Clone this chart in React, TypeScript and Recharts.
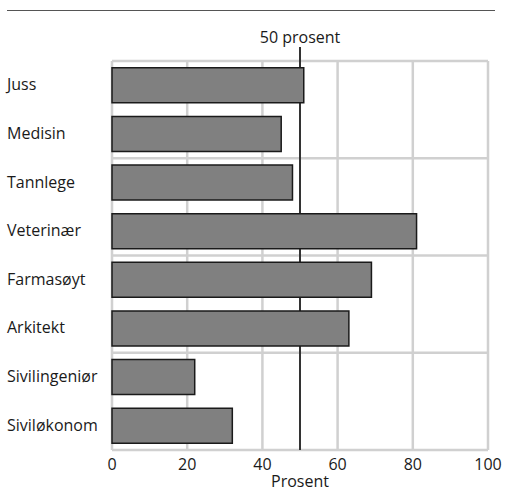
import React from 'react';
import { BarChart, Bar, XAxis, YAxis, CartesianGrid, ReferenceLine } from 'recharts';

const studies = ['Juss', 'Medisin', 'Tannlege', 'Veterinær', 'Farmasøyt', 'Arkitekt', 'Sivilingeniør', 'Siviløkonom'];
const shares = [51, 45, 48, 81, 69, 63, 22, 32];
const xTicks = [0, 20, 40, 60, 80, 100];
const xMax = 100;
const threshold = 50;
// horizontal grid lines after every second category
const groupSize = 2;

const data = studies.map((name, i) => ({ name, value: shares[i] }));

const FONT = '"Open Sans", "Noto Sans", sans-serif';

const CategoryTick = (props: any) => {
  const { y, payload } = props;
  return (
    <text x={7} y={y} dy={5} textAnchor="start" fontSize={16} fill="#1a1a1a" fontFamily={FONT}>
      {payload.value}
    </text>
  );
};

const FiftyLabel = (props: any) => {
  const { viewBox } = props;
  const x = viewBox.x;
  const top = viewBox.y;
  return (
    <g>
      <line x1={x} x2={x} y1={top - 14} y2={top} stroke="#333" strokeWidth={2} />
      <text x={x} y={top - 18} textAnchor="middle" fontSize={16} fill="#1a1a1a" fontFamily={FONT}>
        50 prosent
      </text>
    </g>
  );
};

const bandLines = ({ offset }: any) => {
  const n = studies.length / groupSize;
  const out: number[] = [];
  for (let k = 0; k <= n; k++) out.push(offset.top + (offset.height * k) / n);
  return out;
};

// the 50% line sits behind the bars, so it is drawn as a grid line
const thresholdLine = ({ offset }: any) => [offset.left + (offset.width * threshold) / xMax];

export default function App() {
  return (
    <div style={{ position: 'absolute', left: 0, top: 0, width: 505, height: 492, background: '#fff' }}>
      <div style={{ position: 'absolute', left: 7, top: 10, width: 488, height: 0, borderTop: '1.5px solid #555' }} />
      <BarChart
        width={505}
        height={492}
        data={data}
        layout="vertical"
        margin={{ top: 61, right: 17, bottom: 0, left: 0 }}
        barCategoryGap="14%"
      >
        <CartesianGrid stroke="#d0d0d0" strokeWidth={2.5} horizontalCoordinatesGenerator={bandLines} />
        <CartesianGrid horizontal={false} stroke="#333" strokeWidth={2} verticalCoordinatesGenerator={thresholdLine} />
        <XAxis
          type="number"
          domain={[0, xMax]}
          ticks={xTicks}
          axisLine={false}
          tickLine={false}
          height={42}
          tick={{ fontSize: 16, fill: '#1a1a1a', fontFamily: FONT }}
          tickMargin={3}
          label={{ value: 'Prosent', position: 'insideBottom', offset: 5, fontSize: 16, fill: '#1a1a1a', fontFamily: FONT }}
        />
        <YAxis
          type="category"
          dataKey="name"
          width={112}
          axisLine={false}
          tickLine={false}
          tick={<CategoryTick />}
          interval={0}
        />
        <ReferenceLine
          x={threshold}
          stroke="none"
          ifOverflow="visible"
          label={<FiftyLabel />}
        />
        <Bar
          dataKey="value"
          fill="#808080"
          stroke="#1a1a1a"
          strokeWidth={1.5}
          isAnimationActive={false}
        />
      </BarChart>
    </div>
  );
}
